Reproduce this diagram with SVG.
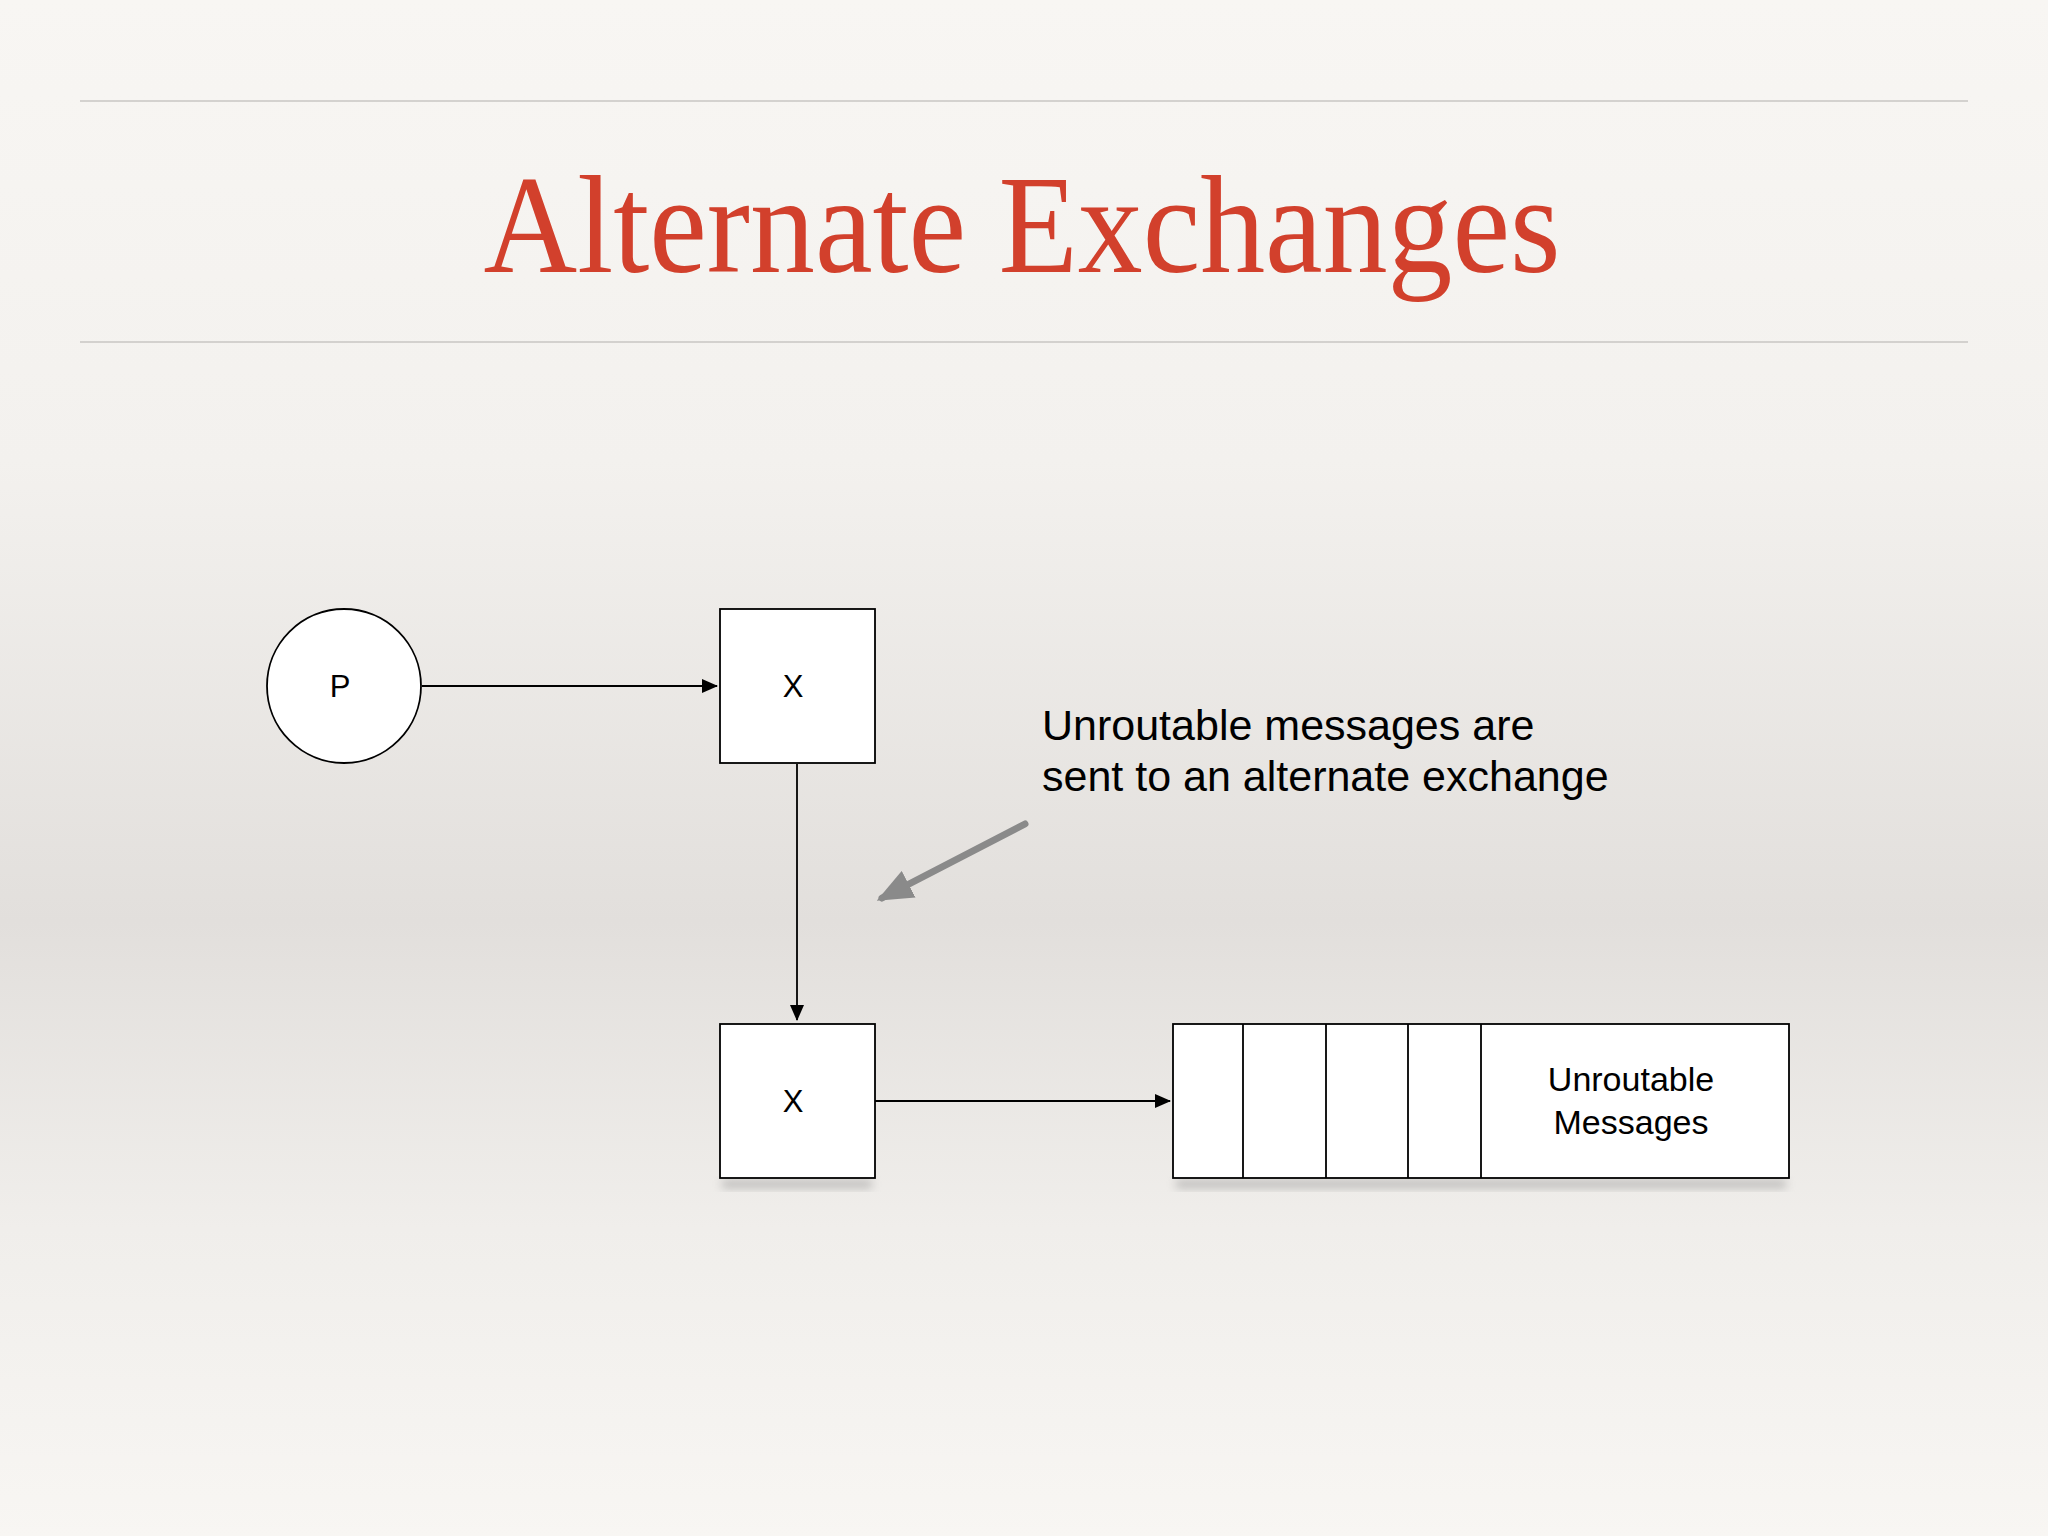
<svg xmlns="http://www.w3.org/2000/svg" width="2048" height="1536" viewBox="0 0 2048 1536">
<defs>
<linearGradient id="bg" x1="0" y1="0" x2="0" y2="1">
<stop offset="0" stop-color="#f8f6f3"/>
<stop offset="0.3" stop-color="#f3f1ee"/>
<stop offset="0.6" stop-color="#e2dfdc"/>
<stop offset="0.8" stop-color="#f0eeeb"/>
<stop offset="1" stop-color="#f8f6f3"/>
</linearGradient>
<marker id="ah" markerWidth="16" markerHeight="14" refX="15" refY="7" orient="auto" markerUnits="userSpaceOnUse">
<path d="M0,0 L16,7 L0,14 z" fill="#000"/>
</marker>
<marker id="gh" markerWidth="36" markerHeight="30" refX="30" refY="15" orient="auto" markerUnits="userSpaceOnUse">
<path d="M0,0 L36,15 L0,30 z" fill="#8a8a8a"/>
</marker>
<filter id="sh" x="-10%" y="-50%" width="120%" height="200%"><feGaussianBlur stdDeviation="5"/></filter>
<style>
.n{fill:#fff;stroke:#000;stroke-width:1.8}
.l{font-family:"Liberation Sans",Arial,sans-serif;fill:#000;text-anchor:middle}
.c{stroke:#000;stroke-width:1.8;fill:none;marker-end:url(#ah)}
</style>
</defs>
<rect width="2048" height="1536" fill="url(#bg)"/>
<line x1="80" y1="101" x2="1968" y2="101" stroke="#c9c6c3" stroke-width="1.5"/>
<line x1="80" y1="342" x2="1968" y2="342" stroke="#c9c6c3" stroke-width="1.5"/>
<text x="1022" y="272" font-family="Liberation Serif,serif" font-size="140" fill="#d2402c" text-anchor="middle" textLength="1077" lengthAdjust="spacingAndGlyphs">Alternate Exchanges</text>
<g id="shadows" fill="#888" opacity="0.5" filter="url(#sh)">
<rect x="722" y="1180" width="150" height="8"/>
<rect x="1176" y="1180" width="610" height="8"/>
</g>
<g id="connectors">
<line class="c" x1="422" y1="686" x2="717" y2="686"/>
<line class="c" x1="797" y1="764" x2="797" y2="1020"/>
<line class="c" x1="875" y1="1101" x2="1170" y2="1101"/>
<line x1="1025" y1="824" x2="882" y2="898" stroke="#8a8a8a" stroke-width="7" stroke-linecap="round" marker-end="url(#gh)"/>
</g>
<g id="P"><circle class="n" cx="344" cy="686" r="77"/><text class="l" x="340" y="697" font-size="31">P</text></g>
<g id="X1"><rect class="n" x="720" y="609" width="155" height="154"/><text class="l" x="793" y="697" font-size="31">X</text></g>
<g id="X2"><rect class="n" x="720" y="1024" width="155" height="154"/><text class="l" x="793" y="1112" font-size="31">X</text></g>
<g id="queue">
<rect class="n" x="1173" y="1024" width="616" height="154"/>
<path d="M1243,1024V1178M1326,1024V1178M1408,1024V1178M1481,1024V1178" stroke="#000" stroke-width="1.8"/>
<text class="l" x="1631" y="1091" font-size="34">Unroutable</text>
<text class="l" x="1631" y="1134" font-size="34">Messages</text>
</g>
<g id="note">
<text x="1042" y="740" font-family="Liberation Sans,Arial,sans-serif" font-size="43" fill="#000">Unroutable messages are</text>
<text x="1042" y="791" font-family="Liberation Sans,Arial,sans-serif" font-size="43" fill="#000">sent to an alternate exchange</text>
</g>
</svg>
